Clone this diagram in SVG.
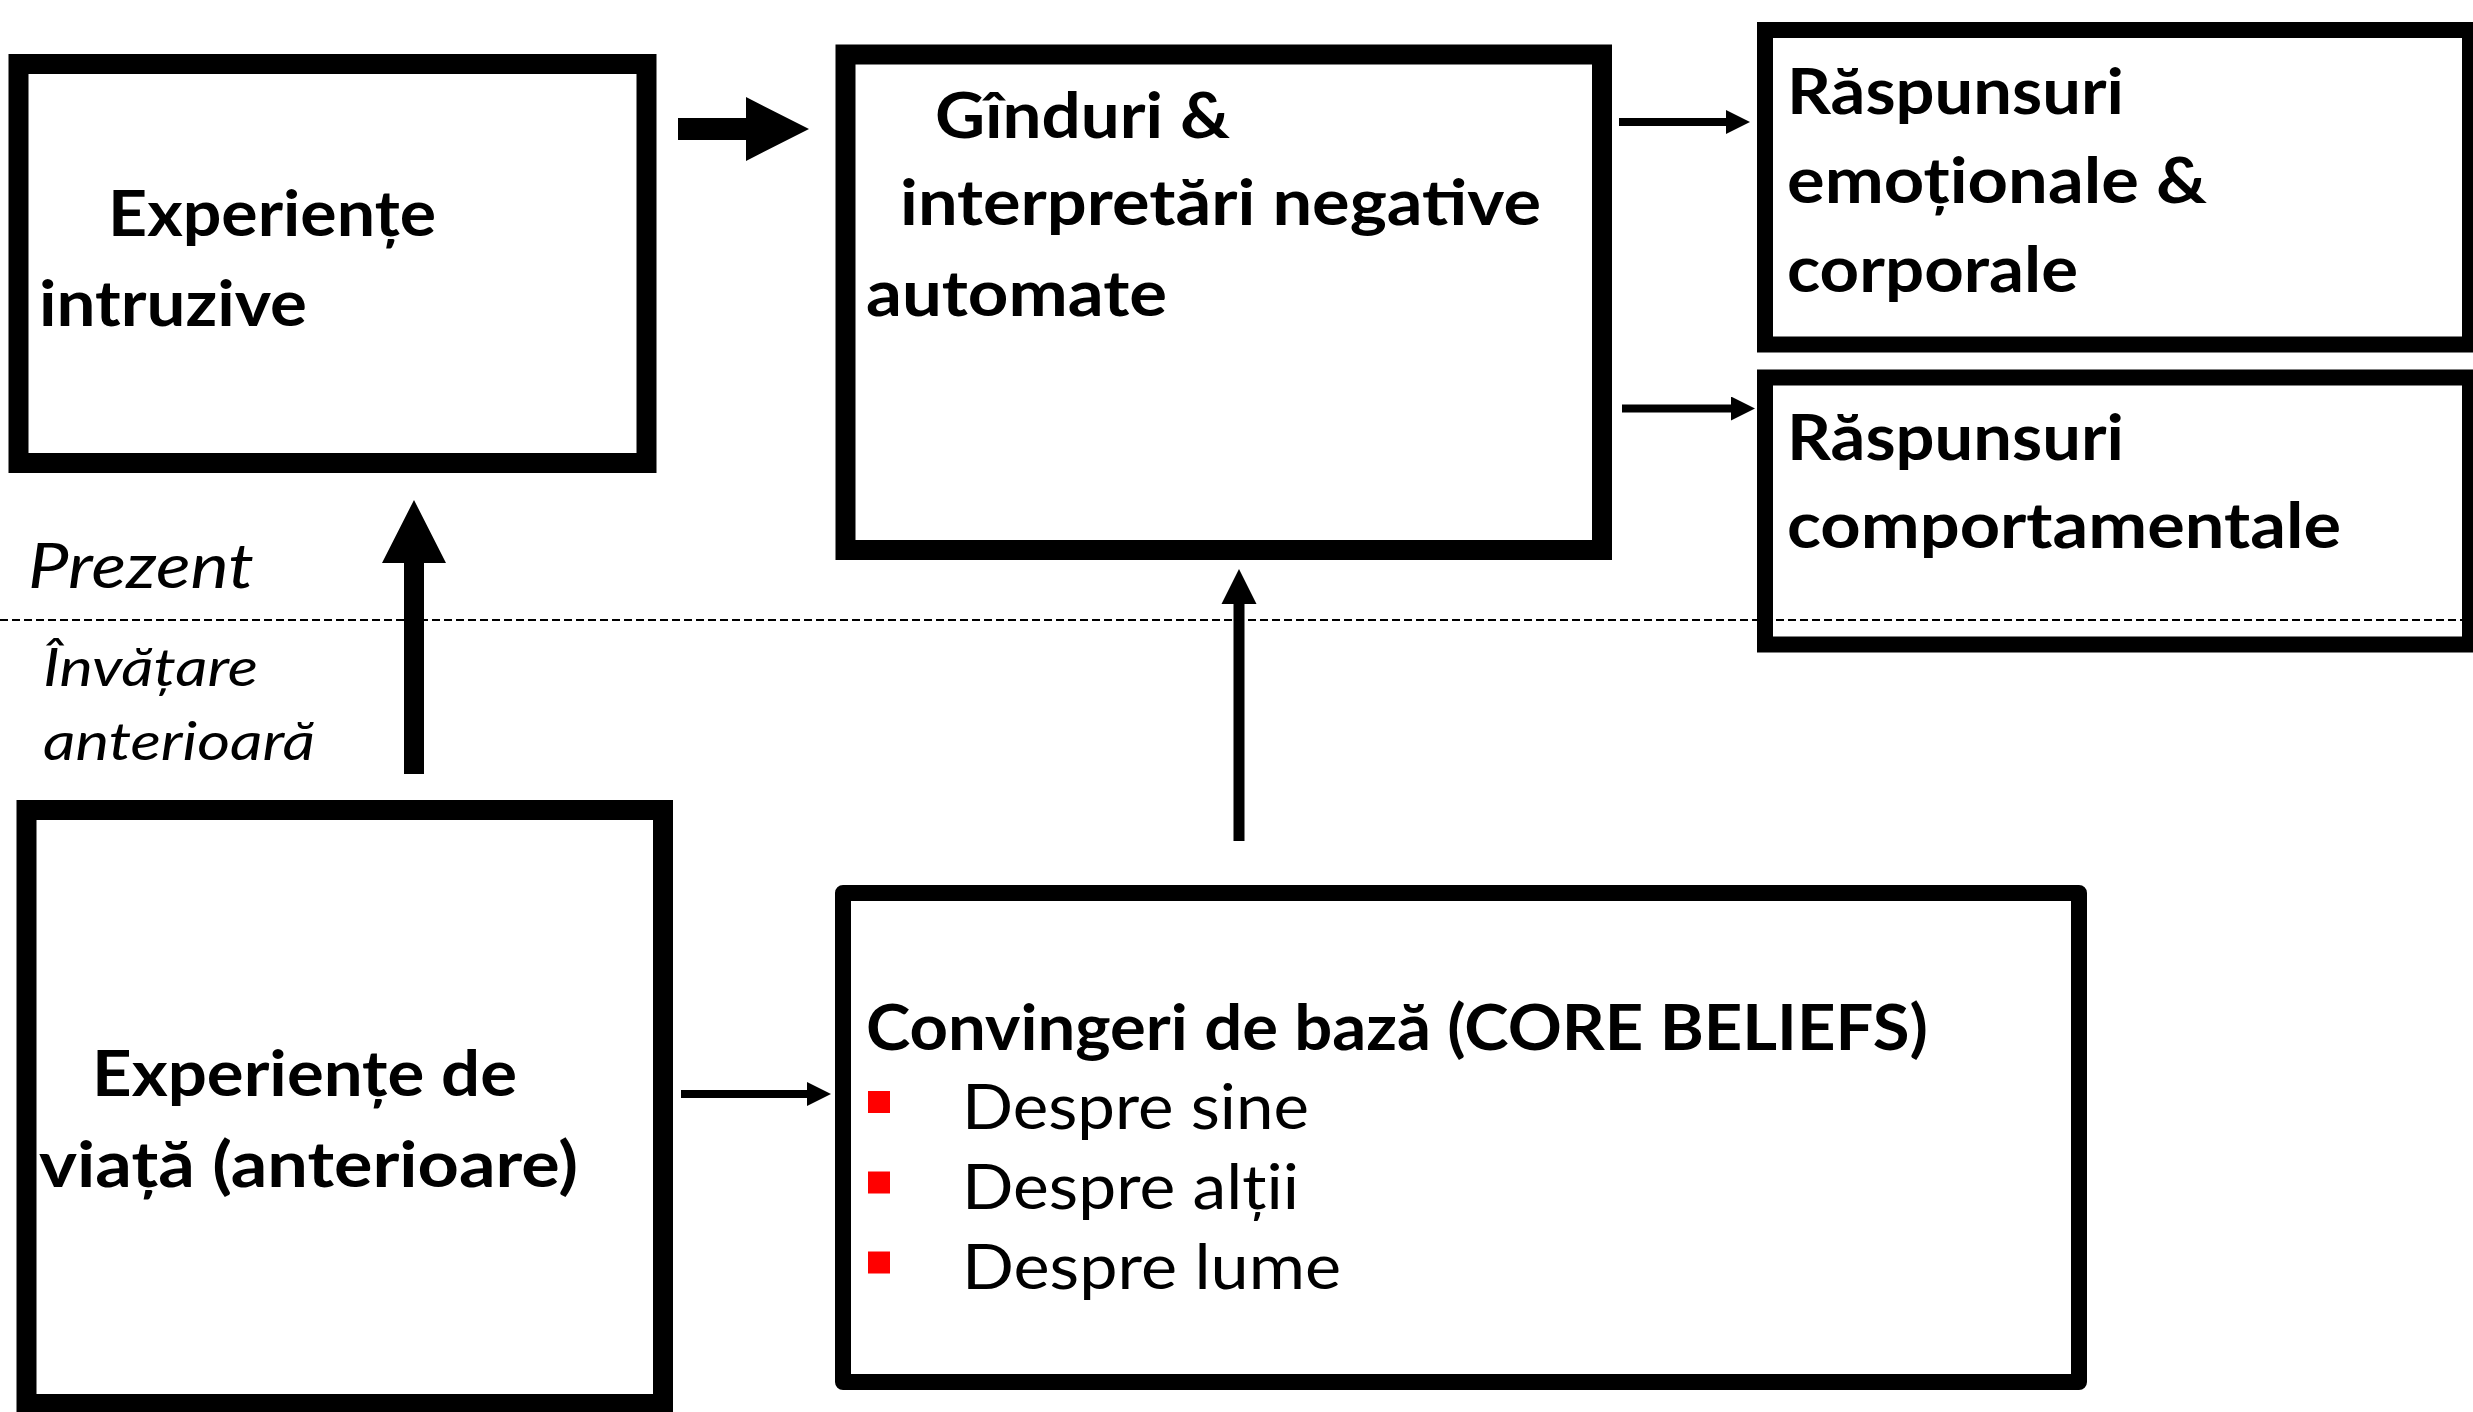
<svg xmlns="http://www.w3.org/2000/svg" width="2473" height="1412" viewBox="0 0 2473 1412">
<style>
.box{fill:#fff;stroke:#000;}
.b20{stroke-width:20;}
.b16{stroke-width:16;}
.t{font-family:Lato,"Liberation Sans",sans-serif;fill:#000;}
.bold{font-weight:700;font-size:64px;}
.reg{font-weight:400;font-size:62px;}
.it{font-style:italic;font-weight:400;}
.thin{stroke:#000;stroke-width:8;fill:none;}
.bullet{fill:#ff0000;}
</style>
<defs>
<marker id="ah" viewBox="0 -12 24 24" refX="0" refY="0" markerWidth="24" markerHeight="24" markerUnits="userSpaceOnUse" orient="auto">
<path d="M0,-12 L24,0 L0,12 z" fill="#000"/>
</marker>
</defs>
<rect width="2473" height="1412" fill="#fff"/>

<g id="node-intruzive">
<rect class="box b20" x="18.5" y="64" width="628" height="399"/>
<text class="t bold" x="108" y="236" textLength="328" lengthAdjust="spacingAndGlyphs">Experiențe</text>
<text class="t bold" x="39" y="326" textLength="268" lengthAdjust="spacingAndGlyphs">intruzive</text>
</g>

<g id="node-ganduri">
<rect class="box b20" x="845.5" y="54.5" width="756.5" height="495.5"/>
<text class="t bold" x="935" y="138" textLength="295" lengthAdjust="spacingAndGlyphs">Gînduri &amp;</text>
<text class="t bold" x="900" y="225" textLength="641" lengthAdjust="spacingAndGlyphs">interpretări negative</text>
<text class="t bold" x="866" y="316" textLength="301" lengthAdjust="spacingAndGlyphs">automate</text>
</g>

<g id="node-emotionale">
<rect class="box b16" x="1765" y="30" width="705" height="314.5"/>
<text class="t bold" x="1787" y="114" textLength="337" lengthAdjust="spacingAndGlyphs">Răspunsuri</text>
<text class="t bold" x="1787" y="203" textLength="420" lengthAdjust="spacingAndGlyphs">emoționale &amp;</text>
<text class="t bold" x="1787" y="292" textLength="291" lengthAdjust="spacingAndGlyphs">corporale</text>
</g>

<g id="node-comportamentale">
<rect class="box b16" x="1765" y="377.5" width="705" height="267"/>
<text class="t bold" x="1787" y="460" textLength="337" lengthAdjust="spacingAndGlyphs">Răspunsuri</text>
<text class="t bold" x="1787" y="548" textLength="554" lengthAdjust="spacingAndGlyphs">comportamentale</text>
</g>

<g id="node-viata">
<rect class="box b20" x="26.5" y="810" width="636.5" height="594"/>
<text class="t bold" x="92" y="1096" textLength="425" lengthAdjust="spacingAndGlyphs">Experiențe de</text>
<text class="t bold" x="39" y="1187" textLength="539" lengthAdjust="spacingAndGlyphs">viață (anterioare)</text>
</g>

<g id="node-convingeri">
<rect class="box b16" x="843" y="893" width="1236" height="489" stroke-linejoin="round"/>
<text class="t bold" x="866" y="1050" textLength="1062" lengthAdjust="spacingAndGlyphs">Convingeri de bază (CORE BELIEFS)</text>
<rect class="bullet" x="868" y="1091" width="22" height="22"/>
<text class="t reg" x="962" y="1129" textLength="347" lengthAdjust="spacingAndGlyphs">Despre sine</text>
<rect class="bullet" x="868" y="1171.5" width="22" height="22"/>
<text class="t reg" x="962" y="1208.5" textLength="337" lengthAdjust="spacingAndGlyphs">Despre alții</text>
<rect class="bullet" x="868" y="1251.5" width="22" height="22"/>
<text class="t reg" x="962" y="1289" textLength="379" lengthAdjust="spacingAndGlyphs">Despre lume</text>
</g>

<g id="labels">
<line x1="0" y1="620" x2="2462" y2="620" stroke="#000" stroke-width="2" stroke-dasharray="8 4"/>
<text class="t it" x="28" y="588" font-size="63" textLength="226" lengthAdjust="spacingAndGlyphs">Prezent</text>
<text class="t it" x="43" y="686" font-size="52" textLength="215" lengthAdjust="spacingAndGlyphs">Învățare</text>
<text class="t it" x="43" y="760" font-size="52" textLength="272" lengthAdjust="spacingAndGlyphs">anterioară</text>
</g>

<g id="connectors">
<path d="M678,118 L746,118 L746,97 L809,129 L746,161 L746,140 L678,140 z" fill="#000"/>
<path d="M404,774 L404,563 L382,563 L414,500 L446,563 L424,563 L424,774 z" fill="#000"/>
<path d="M1233.5,841 L1233.5,604 L1221.5,604 L1239,569 L1256.5,604 L1244.5,604 L1244.5,841 z" fill="#000"/>
<line class="thin" x1="1619" y1="122" x2="1726" y2="122" marker-end="url(#ah)"/>
<line class="thin" x1="1622" y1="408.5" x2="1731" y2="408.5" marker-end="url(#ah)"/>
<line class="thin" x1="681" y1="1094" x2="807" y2="1094" marker-end="url(#ah)"/>
</g>
</svg>
